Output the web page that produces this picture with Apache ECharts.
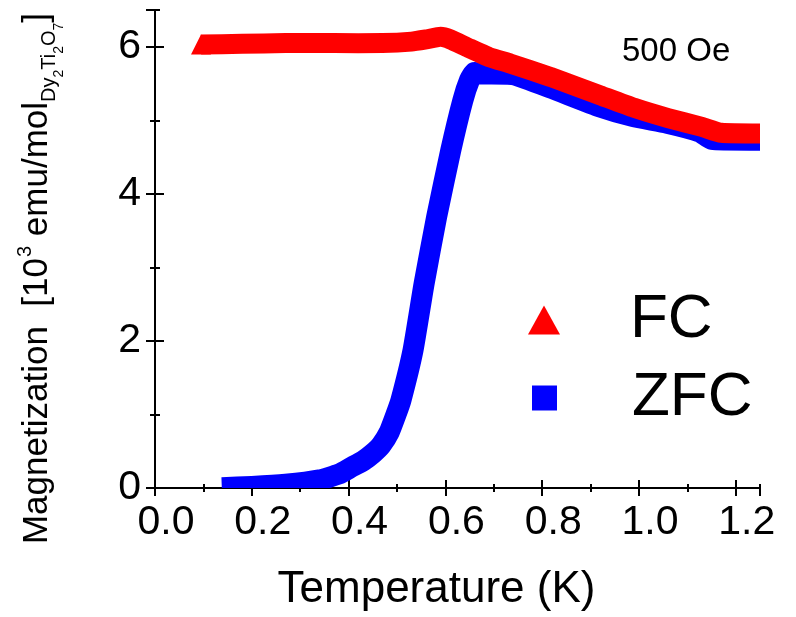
<!DOCTYPE html>
<html><head><meta charset="utf-8">
<script src="https://cdn.jsdelivr.net/npm/echarts@6/dist/echarts.min.js"></script>
<style>html,body{margin:0;padding:0;background:#fff}#c{width:796px;height:617px}</style>
</head><body><div id="c"></div>
<script>
// ---- data ----
const fcT = [0.095, 0.18, 0.27, 0.37, 0.47, 0.53, 0.56, 0.59, 0.61, 0.646, 0.69, 0.735, 0.817, 0.92, 0.99, 1.06, 1.13, 1.17, 1.26];
const fcM = [6.03, 6.04, 6.05, 6.05, 6.05, 6.07, 6.10, 6.135, 6.10, 5.99, 5.86, 5.77, 5.59, 5.34, 5.17, 5.03, 4.91, 4.83, 4.82];
const zfcT = [0.138, 0.2, 0.27, 0.34, 0.38, 0.405, 0.43, 0.45, 0.467, 0.484, 0.498, 0.508, 0.533, 0.556, 0.582, 0.611, 0.636, 0.65, 0.66, 0.675, 0.74, 0.817, 0.92, 0.988, 1.058, 1.126, 1.15, 1.26];
const zfcM = [0.005, 0.02, 0.05, 0.11, 0.19, 0.28, 0.37, 0.47, 0.58, 0.76, 1.0, 1.19, 1.87, 2.78, 3.69, 4.59, 5.27, 5.55, 5.65, 5.63, 5.62, 5.44, 5.18, 5.05, 4.96, 4.84, 4.74, 4.73];
const xTickLabels = ['0.0', '0.2', '0.4', '0.6', '0.8', '1.0', '1.2'];
const yTickLabels = ['0', '2', '4', '6'];
const seriesNames = ['FC', 'ZFC'];
const fieldText = '500 Oe';
const xTitle = 'Temperature (K)';

// ---- chart ----
const FONT = '"Liberation Sans", Arial, Helvetica, sans-serif';
const RED = '#ff0000', BLUE = '#0000ff';
const X_MIN = 0, X_MAX = 1.25, Y_MIN = 0, Y_MAX = 6.5;
const chart = echarts.init(document.getElementById('c'), null, {renderer: 'canvas'});

function bandSeries(name, T, M, color, width, startMarker) {
  return {
    name: name, type: 'custom', clip: true,
    itemStyle: {color: color},
    data: T.map((t, i) => [t, M[i]]),
    encode: {x: 0, y: 1},
    renderItem: function (params, api) {
      if (params.dataIndex !== 0) return null;
      const pts = T.map((t, i) => api.coord([t, M[i]]));
      const children = [{
        type: 'polyline', shape: {points: pts, smooth: 0.15},
        style: {stroke: color, lineWidth: width, fill: null, lineJoin: 'round', lineCap: 'butt'}
      }];
      if (startMarker) {
        const p = pts[0], h = width / 2;
        children.push({type: 'polygon', shape: {points: [[p[0] - h, p[1] + h], [p[0], p[1] - h], [p[0] + h, p[1] + h]]},
          style: {fill: color}});
      }
      return {type: 'group', children: children};
    }
  };
}

const axisLineStyle = {show: true, lineStyle: {color: '#000', width: 2}};
function xAx(pos, interval, tickLen, labels) {
  return {
    type: 'value', position: pos, min: X_MIN, max: X_MAX, interval: interval,
    axisLine: axisLineStyle, splitLine: {show: false},
    axisTick: {show: true, inside: true, length: tickLen, lineStyle: {color: '#000', width: 2}},
    axisLabel: labels ? {
      show: true, fontSize: 41, fontFamily: FONT, color: '#000', margin: 14, padding: [0, 0, 0, 22],
      showMaxLabel: false,
      formatter: v => { const k = Math.round(v / 0.2); return Math.abs(k * 0.2 - v) < 1e-6 ? (xTickLabels[k] || '') : ''; }
    } : {show: false}
  };
}
function yAx(pos, interval, tickLen, labels) {
  return {
    type: 'value', position: pos, min: Y_MIN, max: Y_MAX, interval: interval,
    axisLine: axisLineStyle, splitLine: {show: false},
    axisTick: {show: true, inside: true, length: tickLen, lineStyle: {color: '#000', width: 2}},
    axisLabel: labels ? {
      show: true, fontSize: 41, fontFamily: FONT, color: '#000', margin: 14, showMaxLabel: false,
      formatter: v => { const k = Math.round(v / 2); return Math.abs(k * 2 - v) < 1e-6 ? (yTickLabels[k] || '') : ''; }
    } : {show: false}
  };
}

const xMain = xAx('bottom', 0.2, 8, true);
xMain.name = xTitle;
xMain.nameLocation = 'middle';
xMain.nameGap = 80;
xMain.nameTextStyle = {fontSize: 44, fontFamily: FONT, color: '#000', padding: [0, 42, 0, 0]};

const yMain = yAx('left', 2, 9, true);
yMain.name = '{m|Magnetization  [10}{sup|3}{m| emu/mol}{sub|Dy}{ss|2}{sub|Ti}{ss|2}{sub|O}{ss|7}{m|]}';
yMain.nameLocation = 'middle';
yMain.nameGap = 89;
yMain.nameTextStyle = {
  fontFamily: FONT, color: '#000', padding: [0, 59, 0, 0],
  rich: {
    m: {fontSize: 35, lineHeight: 58, verticalAlign: 'middle', fontFamily: FONT, color: '#000'},
    sup: {fontSize: 20, lineHeight: 20, verticalAlign: 'top', padding: [7, 0, 0, 1], fontFamily: FONT, color: '#000'},
    sub: {fontSize: 20, lineHeight: 20, verticalAlign: 'bottom', padding: [0, 0, 7, 0], fontFamily: FONT, color: '#000'},
    ss: {fontSize: 14, lineHeight: 14, verticalAlign: 'bottom', fontFamily: FONT, color: '#000'}
  }
};

const option = {
  animation: false,
  backgroundColor: '#fff',
  grid: {left: 153, top: 10, right: 36, bottom: 129, containLabel: false},
  title: {text: fieldText, left: 622, top: 35, padding: 0,
    textStyle: {fontSize: 33, fontWeight: 'normal', fontFamily: FONT, color: '#000'}},
  legend: [
    {data: [{name: seriesNames[0], icon: 'triangle'}], orient: 'vertical', left: 528, top: 289, padding: 0,
      itemWidth: 32, itemHeight: 29, selectedMode: false,
      textStyle: {fontSize: 62, fontFamily: FONT, color: '#000', padding: [0, 0, 0, 65]}},
    {data: [{name: seriesNames[1], icon: 'rect'}], orient: 'vertical', left: 532, top: 367, padding: 0,
      itemWidth: 25, itemHeight: 25, selectedMode: false,
      textStyle: {fontSize: 62, fontFamily: FONT, color: '#000', padding: [0, 0, 0, 70]}}
  ],
  xAxis: [xMain, xAx('bottom', 0.1, 4, false), xAx('top', 0.2, 8, false), xAx('top', 0.1, 4, false)],
  yAxis: [yMain, yAx('left', 1, 5, false), yAx('right', 2, 9, false), yAx('right', 1, 5, false)],
  series: [
    Object.assign(bandSeries(seriesNames[1], zfcT, zfcM, BLUE, 21, false), {z: 2}),
    Object.assign(bandSeries(seriesNames[0], fcT, fcM, RED, 20, true), {z: 3})
  ]
};
chart.setOption(option);
</script>
</body></html>
